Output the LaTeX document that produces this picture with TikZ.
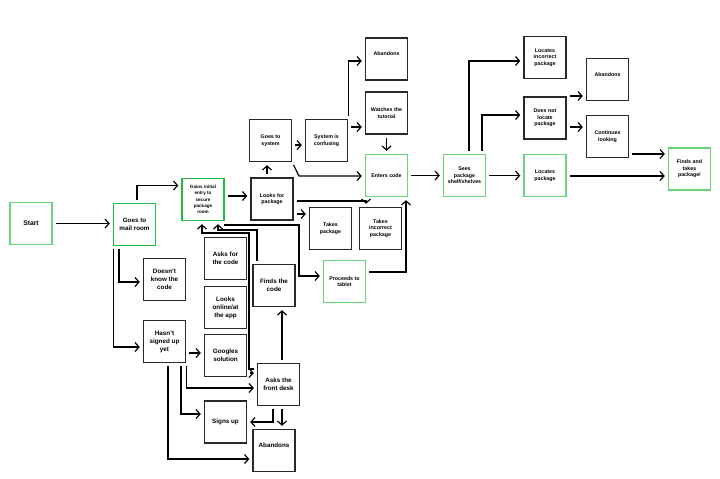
\documentclass[tikz,border=0pt]{standalone}
\usepackage{fontspec}
\setmainfont{Liberation Sans}
\usetikzlibrary{arrows.meta}
\definecolor{gdark}{RGB}{30,185,70}
\definecolor{glight}{RGB}{105,212,120}
\definecolor{edge}{RGB}{40,40,40}
\begin{document}
\begin{tikzpicture}[x=1pt,y=-1pt,
  card/.style={draw=edge, line width=1.4pt, minimum width=42pt, minimum height=42pt,
    inner sep=1pt, align=center, font=\bfseries\fontsize{5.3}{6.6}\selectfont},
  big/.style={font=\bfseries\fontsize{6.3}{8}\selectfont},
  lit/.style={draw=glight},
  up/.style={text depth=10pt},
  conn/.style={line width=1.2pt, draw=black, -{Straight Barb[length=4pt,width=9pt]},
    shorten <=3pt, shorten >=3pt}]
\path[fill=white, use as bounding box] (0,0) rectangle (720,479);

\node[card, big, lit, font=\bfseries\fontsize{6.8}{8}\selectfont] (start) at (31,223.5) {Start};
\node[card, big, draw=gdark] (goes) at (134.5,224.5) {Goes to\\mail room};
\node[card, draw=gdark, font=\bfseries\fontsize{4.6}{6.4}\selectfont] (gains) at (203,199.5)
  {Gains initial\\entry to\\secure\\package\\room};
\node[card, big] (dontknow) at (164.5,279.5) {Doesn't\\know the\\code};
\node[card, big] (notsigned) at (164.5,341.5) {Hasn't\\signed up\\yet};
\node[card, big] (askcode) at (225.5,258.5) {Asks for\\the code};
\node[card, big] (online) at (225.5,307.5) {Looks\\online/at\\the app};
\node[card, big] (googles) at (225.5,355.5) {Googles\\solution};
\node[card, big] (findcode) at (274,285.5) {Finds the\\code};
\node[card, big] (frontdesk) at (278.5,384.5) {Asks the\\front desk};
\node[card, big] (signsup) at (225.5,422) {Signs up};
\node[card, big, up] (quitdesk) at (274,450.5) {Abandons};

\node[card] (lookpkg) at (272,199) {Looks for\\package};
\node[card] (gosys) at (270.5,140.5) {Goes to\\system};
\node[card] (confused) at (326.5,140.5) {System is\\confusing};
\node[card, up] (quitsys) at (386.5,59) {Abandons};
\node[card] (tutorial) at (386.5,113) {Watches the\\tutorial};
\node[card, lit] (enters) at (386.5,175.5) {Enters code};
\node[card] (takes) at (330.5,228.5) {Takes\\package};
\node[card] (takeswrong) at (380.5,228.5) {Takes\\incorrect\\package};
\node[card, lit] (tablet) at (344.5,281.5) {Proceeds to\\tablet};

\node[card, lit] (sees) at (464.5,175.5) {Sees\\package\\shelf/shelves};
\node[card] (wrongpkg) at (545,57.5) {Locates\\incorrect\\package};
\node[card] (notfound) at (545,118) {Does not\\locate\\package};
\node[card, lit] (located) at (545,175.5) {Locates\\package};
\node[card, up] (quitshelf) at (607.5,79.5) {Abandons};
\node[card] (continues) at (607.5,136.5) {Continues\\looking};
\node[card, lit] (finds) at (689.5,169) {Finds and\\takes\\package!};

\draw[conn] (start.east) -- (start.east -| goes.west);
\draw[conn] (goes.north -| 137,0) |- (gains.west |- 0,185.5);
\draw[conn] (goes.south -| 119,0) |- (dontknow.west |- 0,282);
\draw[conn] (goes.south -| 113.5,0) |- (notsigned.west |- 0,347);
\draw[conn] (notsigned.east |- 0,353) -- (googles.west |- 0,353);
\draw[conn] (notsigned.south -| 186.5,0) |- (frontdesk.west |- 0,388);
\draw[conn] (notsigned.south -| 181,0) |- (signsup.west |- 0,414);
\draw[conn] (notsigned.south -| 168,0) |- (quitdesk.west |- 0,459);
\draw[conn] (googles.east |- 0,373) -- (frontdesk.west |- 0,373);
\draw[conn] (frontdesk.south -| 273,0) |- (signsup.east);
\draw[conn] (frontdesk.south -| 282,0) -- (quitdesk.north -| 282,0);
\draw[conn] (frontdesk.north -| 282,0) -- (findcode.south -| 282,0);
\draw[conn] (frontdesk.west |- 0,369) -| (249,233) -| (gains.south -| 202,0);
\draw[conn] (findcode.north -| 257,0) |- (218,230) -- (gains.south -| 218,0);
\draw[conn] (gains.south east) |- (299,225) |- (tablet.west |- 0,276);
\draw[conn] (gains.east |- 0,196) -- (lookpkg.west |- 0,196);

\draw[conn] (lookpkg.north -| 267,0) -- (gosys.south -| 267,0);
\draw[conn] (gosys.east |- 0,145) -- (confused.west |- 0,145);
\draw[conn] (gosys.south east) -- (299,176) -- (enters.west |- 0,176);
\draw[conn] (confused.east |- 0,127) -- (tutorial.west |- 0,127);
\draw[conn] (confused.north east) |- (quitsys.west |- 0,61);
\draw[conn] (tutorial.south) -- (enters.north);
\draw[conn] (lookpkg.east |- 0,201) -| (takeswrong.north -| 366,0);
\draw[conn] (lookpkg.east |- 0,214) -- (takes.west |- 0,214);
\draw[conn] (tablet.east |- 0,272) -| (enters.south -| 406,0);
\draw[conn] (enters.east) -- (sees.west);

\draw[conn] (sees.north -| 469,0) |- (wrongpkg.west |- 0,61);
\draw[conn] (sees.north -| 482,0) |- (notfound.west |- 0,115);
\draw[conn] (sees.east) -- (located.west);
\draw[conn] (notfound.east |- 0,96) -- (quitshelf.west |- 0,96);
\draw[conn] (notfound.east |- 0,127) -- (continues.west |- 0,127);
\draw[conn] (continues.east |- 0,154) -- (finds.west |- 0,154);
\draw[conn] (located.east |- 0,176) -- (finds.west |- 0,176);
\end{tikzpicture}
\end{document}
